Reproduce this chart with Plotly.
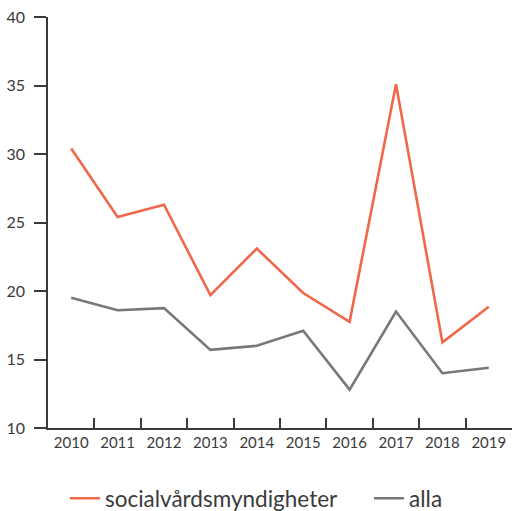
import plotly.graph_objects as go

years = ["2010", "2011", "2012", "2013", "2014", "2015", "2016", "2017", "2018", "2019"]
social = [30.4, 25.4, 26.3, 19.7, 23.1, 19.85, 17.75, 35.1, 16.25, 18.85]
alla = [19.5, 18.6, 18.75, 15.7, 16.0, 17.1, 12.8, 18.5, 14.0, 14.4]
y_ticks = [10, 15, 20, 25, 30, 35, 40]

ORANGE = "#F0674A"
GRAY = "#77777C"
AXIS = "#3a3a3a"
FONT = "Lato"

fig = go.Figure()
fig.add_trace(go.Scatter(x=years, y=social, mode="lines", name="socialvårdsmyndigheter",
                         line=dict(color=ORANGE, width=2.6), legend="legend"))
fig.add_trace(go.Scatter(x=years, y=alla, mode="lines", name="alla",
                         line=dict(color=GRAY, width=2.6), legend="legend2"))

leg_common = dict(orientation="h", y=-0.172, yanchor="middle", xanchor="left",
                  font=dict(size=22.5, color=AXIS, family=FONT), bgcolor="rgba(0,0,0,0)")

fig.update_layout(
    width=512, height=511,
    margin=dict(l=48, r=0, t=17, b=83, autoexpand=False),
    plot_bgcolor="white", paper_bgcolor="white",
    font=dict(family=FONT, size=15, color=AXIS),
    showlegend=True,
    legend=dict(x=0.0365, **leg_common),
    legend2=dict(x=0.692, **leg_common),
)
fig.update_xaxes(
    type="category", tickson="boundaries", ticks="inside", ticklen=10, tickwidth=1.5,
    tickcolor=AXIS, showline=True, linecolor=AXIS, linewidth=1.5, showgrid=False,
    zeroline=False, tickfont=dict(size=15), range=[-0.5, 9.5], automargin=False,
)
fig.update_yaxes(
    range=[10, 40], tickvals=y_ticks, ticks="outside", ticklen=12, tickwidth=1.5,
    tickcolor=AXIS, showline=True, linecolor=AXIS, linewidth=1.5, showgrid=False,
    zeroline=False, tickfont=dict(size=16), ticklabelstandoff=6, automargin=False,
)

fig.write_html("out.html", config={"displayModeBar": False},
               post_script="document.body.style.margin='0';document.body.style.overflow='hidden';")
